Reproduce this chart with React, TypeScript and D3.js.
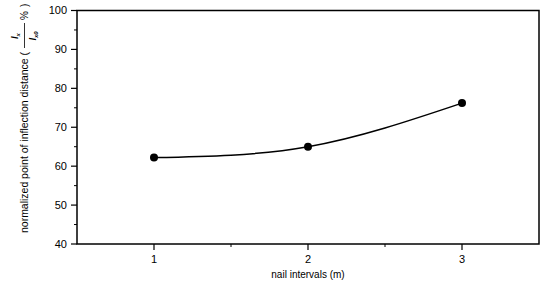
import React from "react";
import * as d3 from "d3";

// data
const intervals = [1, 2, 3];
const ratios = [62.2, 65.0, 76.2];
const xTicks = [1, 2, 3];
const yTicks = [40, 50, 60, 70, 80, 90, 100];

const W = 545;
const H = 284;
const m = { left: 77, right: 6, top: 10.5, bottom: 40 };
const font = "'Liberation Sans', Arial, sans-serif";

export default function App() {
  const x = d3.scaleLinear().domain([0.5, 3.5]).range([m.left, W - m.right]);
  const y = d3.scaleLinear().domain([40, 100]).range([H - m.bottom, m.top]);

  const pts = intervals.map((d, i) => [d, ratios[i]] as [number, number]);
  const line = d3
    .line<[number, number]>()
    .x((d) => x(d[0]))
    .y((d) => y(d[1]))
    .curve(d3.curveNatural);

  const minorY = d3.range(45, 100, 10);
  const minorX = [1.5, 2.5];

  const x0 = x(0.5);
  const x1 = x(3.5);
  const y0 = y(40);
  const y1 = y(100);

  return (
    <svg
      width={W}
      height={H}
      style={{ position: "absolute", left: 0, top: 0, background: "#fff" }}
      fontFamily={font}
    >
      {/* frame */}
      <rect x={x0} y={y1} width={x1 - x0} height={y0 - y1} fill="none" stroke="#000" strokeWidth={1.5} />

      {/* y ticks */}
      {yTicks.map((t) => (
        <g key={t}>
          <line x1={x0 - 6} x2={x0} y1={y(t)} y2={y(t)} stroke="#000" strokeWidth={1.2} />
          <text x={x0 - 10} y={y(t)} dy="0.35em" textAnchor="end" fontSize={11}>
            {t}
          </text>
        </g>
      ))}
      {minorY.map((t) => (
        <line key={t} x1={x0 - 3} x2={x0} y1={y(t)} y2={y(t)} stroke="#000" strokeWidth={1} />
      ))}

      {/* x ticks */}
      {xTicks.map((t) => (
        <g key={t}>
          <line x1={x(t)} x2={x(t)} y1={y0} y2={y0 + 6} stroke="#000" strokeWidth={1.2} />
          <text x={x(t)} y={y0 + 19} textAnchor="middle" fontSize={11}>
            {t}
          </text>
        </g>
      ))}
      {minorX.map((t) => (
        <line key={t} x1={x(t)} x2={x(t)} y1={y0} y2={y0 + 3} stroke="#000" strokeWidth={1} />
      ))}

      {/* axis titles */}
      <text x={(x0 + x1) / 2} y={H - 6} textAnchor="middle" fontSize={10}>
        nail intervals (m)
      </text>
      <g transform="translate(28,233) rotate(-90)">
        <text x={0} y={0} fontSize={10} textLength={181} lengthAdjust="spacingAndGlyphs">
          normalized point of inflection distance (
        </text>
        {/* fraction l_x / l_x0 */}
        <line x1={185} x2={210} y1={-3.5} y2={-3.5} stroke="#000" strokeWidth={0.8} />
        <text x={197} y={-10} textAnchor="middle" fontSize={9} fontStyle="italic" fontWeight="bold">
          l
          <tspan fontSize={6} dy={2}>x</tspan>
        </text>
        <text x={197} y={8} textAnchor="middle" fontSize={9} fontStyle="italic" fontWeight="bold">
          l
          <tspan fontSize={6} dy={2}>x0</tspan>
        </text>
        <text x={213} y={0} fontSize={10}>
          %
        </text>
        <text x={226} y={0} fontSize={10}>
          )
        </text>
      </g>

      {/* series */}
      <path d={line(pts) ?? ""} fill="none" stroke="#000" strokeWidth={1.5} />
      {pts.map((p, i) => (
        <circle key={i} cx={x(p[0])} cy={y(p[1])} r={4} fill="#000" />
      ))}
    </svg>
  );
}
